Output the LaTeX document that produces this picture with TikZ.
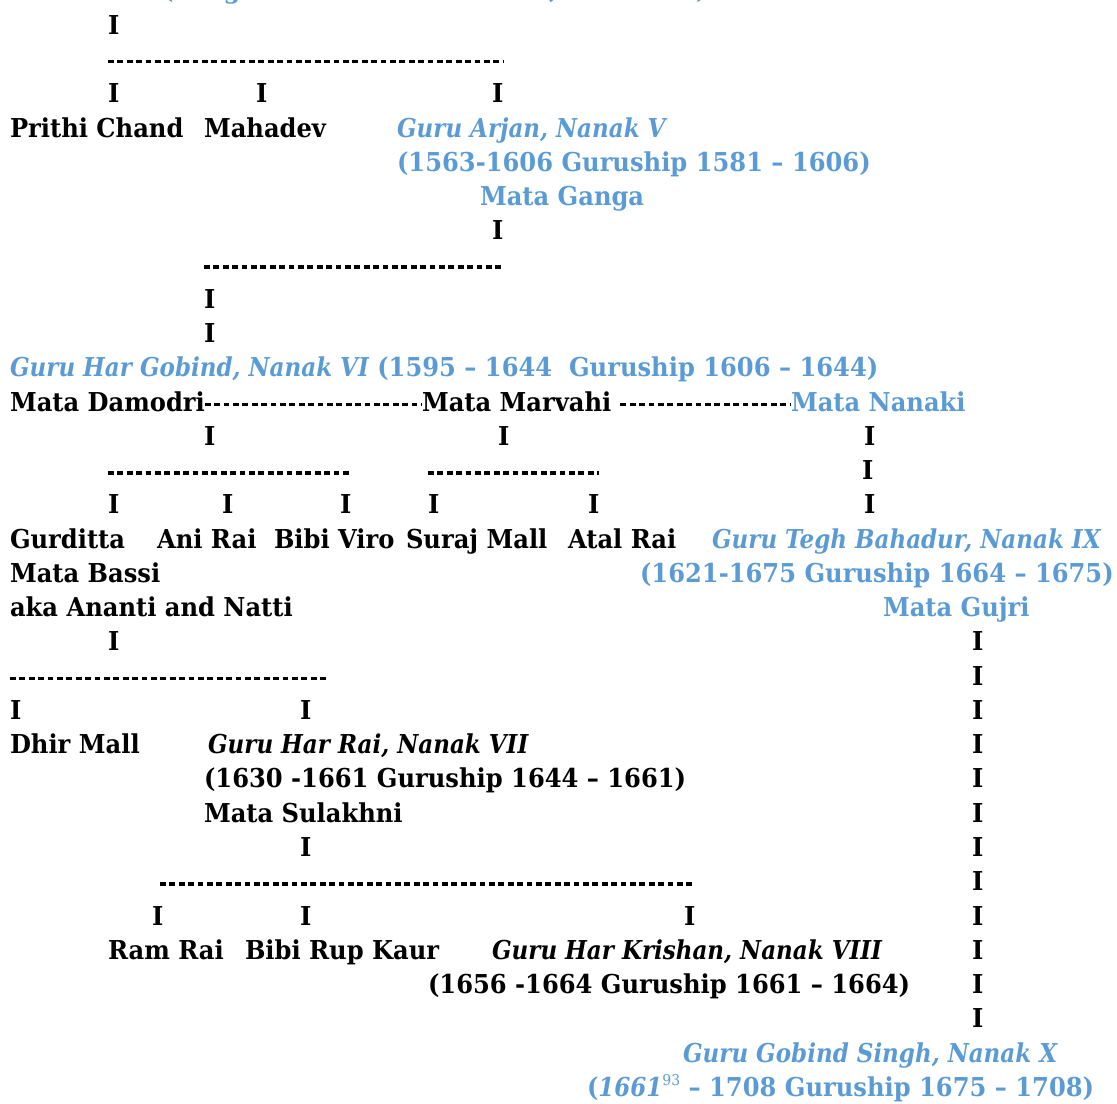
\documentclass[tikz,border=0pt]{standalone}
\usepackage{fontspec}
\setmainfont{DejaVu Serif}[FakeStretch=0.93,ItalicFeatures={FakeStretch=0.885},BoldItalicFeatures={FakeStretch=0.885}]
\usetikzlibrary{calc}
\definecolor{gblue}{RGB}{91,155,213}
\tikzset{
  txt/.style={anchor=base west, inner sep=0pt, outer sep=0pt, text=black,
    font=\bfseries\fontsize{26pt}{31pt}\selectfont},
  blu/.style={txt, text=gblue},
  itx/.style={txt, font=\bfseries\itshape\fontsize{26pt}{31pt}\selectfont},
  bit/.style={itx, text=gblue},
  hy/.style={draw=black, line width=3.5pt, dash pattern=on 5.8pt off 3.6pt}
}
\begin{document}
\begin{tikzpicture}[x=1pt,y=-34.26pt]
\clip (0,0) rectangle (1117,32.224);
% row 0 (cut off at the top)
\node[blu] (top) at (162,-0.05) {(daughter of Guru Amar Das, Nanak III)};
% rows 1-3
\node[txt] (i1) at (108,1) {I};
\coordinate (d2) at (0,1.8);
\node[txt] (i3a) at (108,3) {I};
\node[txt] (i3b) at (256,3) {I};
\node[txt] (i3c) at (492,3) {I};
\draw[hy] (i3a.west |- d2) -- (i3c.east |- d2);
% rows 4-7
\node[txt] (prithi) at (10,4) {Prithi Chand};
\node[txt] (mahadev) at (204,4) {Mahadev};
\node[bit] (arjan) at (397,4) {Guru Arjan, Nanak V};
\node[blu] (arjand) at (397,5) {(1563-1606 Guruship 1581 – 1606)};
\node[blu] (ganga) at (480,6) {Mata Ganga};
\node[txt] (i7) at (492,7) {I};
% rows 8-10
\coordinate (d8) at (0,7.8);
\node[txt] (i9) at (204,9) {I};
\node[txt] (i10) at (204,10) {I};
\draw[hy] (i9.west |- d8) -- (i7.east |- d8);
% row 11
\node[blu] (hargobind) at (10,11) {{\itshape Guru Har Gobind, Nanak VI} (1595 – 1644\ \ Guruship 1606 – 1644)};
% row 12
\node[txt] (damodri) at (10,12) {Mata Damodri};
\node[txt] (marvahi) at (422,12) {Mata Marvahi};
\node[blu] (nanaki) at (791,12) {Mata Nanaki};
\draw[hy] ($(damodri.base east)+(0,-0.2)$) -- ($(marvahi.base west)+(0,-0.2)$);
\draw[hy] ($(marvahi.base east)+(9,-0.2)$) -- ($(nanaki.base west)+(0,-0.2)$);
% rows 13-15
\node[txt] (i13a) at (204,13) {I};
\node[txt] (i13b) at (498,13) {I};
\node[txt] (i13c) at (864,13) {I};
\coordinate (d14) at (0,13.8);
\node[txt] (i14) at (862,14) {I};
\node[txt] (i15a) at (108,15) {I};
\node[txt] (i15b) at (222,15) {I};
\node[txt] (i15c) at (340,15) {I};
\node[txt] (i15d) at (428,15) {I};
\node[txt] (i15e) at (588,15) {I};
\node[txt] (i15f) at (864,15) {I};
\draw[hy] (i15a.west |- d14) -- (i15c.east |- d14);
\draw[hy] (i15d.west |- d14) -- (i15e.east |- d14);
% row 16
\node[txt] (gurditta) at (10,16) {Gurditta};
\node[txt] (anirai) at (157,16) {Ani Rai};
\node[txt] (viro) at (274,16) {Bibi Viro};
\node[txt] (suraj) at (406,16) {Suraj Mall};
\node[txt] (atal) at (568,16) {Atal Rai};
\node[bit] (tegh) at (712,16) {Guru Tegh Bahadur, Nanak IX};
% rows 17-18
\node[txt] (bassi) at (10,17) {Mata Bassi};
\node[blu] (teghd) at (640,17) {(1621-1675 Guruship 1664 – 1675)};
\node[txt] (aka) at (10,18) {aka Ananti and Natti};
\node[blu] (gujri) at (883,18) {Mata Gujri};
% right column of bars
\foreach \r in {19,...,30} \node[txt] (g\r) at (972,\r) {I};
% rows 19-21
\node[txt] (i19) at (108,19) {I};
\coordinate (d20) at (0,19.8);
\node[txt] (i21a) at (10,21) {I};
\node[txt] (i21b) at (300,21) {I};
\draw[hy] (i21a.west |- d20) -- ($(i21b.east |- d20)+(15,0)$);
% rows 22-25
\node[txt] (dhir) at (10,22) {Dhir Mall};
\node[itx] (harrai) at (208,22) {Guru Har Rai, Nanak VII};
\node[txt] (harraid) at (204,23) {(1630 -1661 Guruship 1644 – 1661)};
\node[txt] (sulakhni) at (204,24) {Mata Sulakhni};
\node[txt] (i25) at (300,25) {I};
% rows 26-27
\coordinate (d26) at (0,25.8);
\node[txt] (i27a) at (152,27) {I};
\node[txt] (i27b) at (300,27) {I};
\node[txt] (i27c) at (684,27) {I};
\draw[hy] ($(i27a.west |- d26)+(8,0)$) -- (i27c.east |- d26);
% rows 28-29
\node[txt] (ramrai) at (108,28) {Ram Rai};
\node[txt] (rupkaur) at (245,28) {Bibi Rup Kaur};
\node[itx] (harkrishan) at (492,28) {Guru Har Krishan, Nanak VIII};
\node[txt] (harkrishand) at (428,29) {(1656 -1664 Guruship 1661 – 1664)};
% rows 31-32
\node[bit] (gobind) at (683,31) {Guru Gobind Singh, Nanak X};
\node[blu] (gobindd) at (587,32) {({\itshape 1661}\raisebox{0.42em}{\mdseries\fontsize{15pt}{15pt}\selectfont 93} – 1708 Guruship 1675 – 1708)};
\end{tikzpicture}
\end{document}
